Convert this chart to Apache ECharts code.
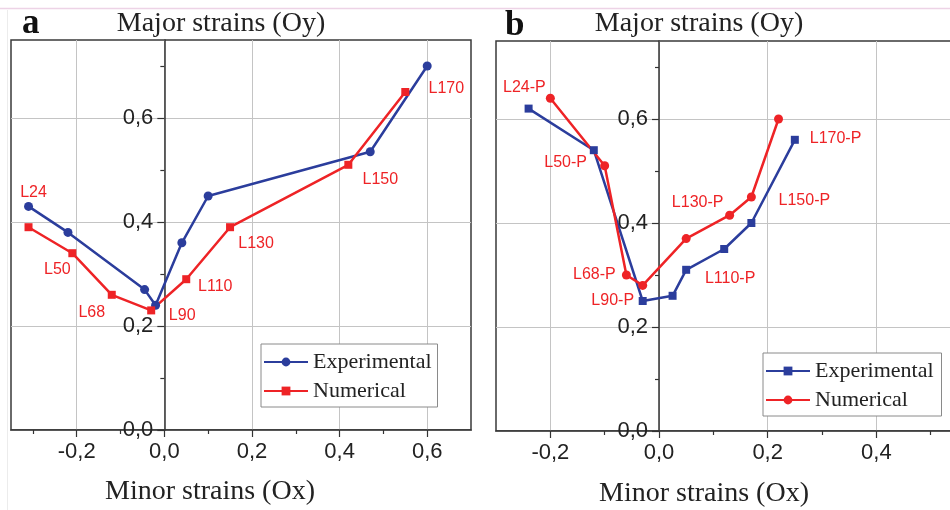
<!DOCTYPE html>
<html>
<head>
<meta charset="utf-8">
<title>Major vs minor strains</title>
<script src="https://cdn.jsdelivr.net/npm/echarts@6/dist/echarts.min.js"></script>
<style>
  html, body { margin: 0; padding: 0; background: #ffffff; }
  #chart { width: 950px; height: 510px; }
</style>
</head>
<body>
<div id="chart"></div>
<script>
// ---- Panel a: forming limit points (minor strain x, major strain y) ----
const aExpX = [-0.31, -0.22, -0.045, -0.02, 0.04, 0.10, 0.47, 0.60];
const aExpY = [0.43, 0.38, 0.27, 0.24, 0.36, 0.45, 0.535, 0.70];
const aNumX = [-0.31, -0.21, -0.12, -0.03, 0.05, 0.15, 0.42, 0.55];
const aNumY = [0.39, 0.34, 0.26, 0.23, 0.29, 0.39, 0.51, 0.65];
const aLabels = ['L24', 'L50', 'L68', 'L90', 'L110', 'L130', 'L150', 'L170'];

// ---- Panel b: pre-strained specimens ----
const bExpX = [-0.24, -0.12, -0.03, 0.025, 0.05, 0.12, 0.17, 0.25];
const bExpY = [0.62, 0.54, 0.25, 0.26, 0.31, 0.35, 0.40, 0.56];
const bNumX = [-0.20, -0.10, -0.06, -0.03, 0.05, 0.13, 0.17, 0.22];
const bNumY = [0.64, 0.51, 0.30, 0.28, 0.37, 0.415, 0.45, 0.60];
const bLabels = ['L24-P', 'L50-P', 'L68-P', 'L90-P', 'L110-P', 'L130-P', 'L150-P', 'L170-P'];

// ---- Axis ticks ----
const aMajorX = [-0.2, 0.0, 0.2, 0.4, 0.6];
const aMinorX = [-0.3, -0.1, 0.1, 0.3, 0.5];
const bMajorX = [-0.2, 0.0, 0.2, 0.4, 0.6];
const bMinorX = [-0.1, 0.1, 0.3, 0.5];
const majorY = [0.0, 0.2, 0.4, 0.6];
const minorY = [0.1, 0.3, 0.5, 0.7];

// label offsets (px) from each numerical point to its tag text
const aLabelOffsets = [[5, -35], [-15, 16], [-20, 18], [31, 5], [29, 7], [26, 16], [32, 15], [41, -3]];
const bLabelOffsets = [[-26, -11], [-39, -3], [-32, 0], [-30, 15], [44, 40], [-32, -13], [53, 4], [57, 20]];

const BLUE = '#2b3d9c';
const RED = '#ee2326';
const SANS = '"Liberation Sans", Arial, sans-serif';
const SERIF = '"Liberation Serif", "Times New Roman", serif';

const W = 950;
const gridA = { left: 11, top: 40, right: 479, bottom: 80 };
const gridB = { left: 496, top: 41, right: -35, bottom: 79 };

const comma = v => v.toFixed(1).replace('.', ',');
const zip = (xs, ys) => xs.map((x, i) => [x, ys[i]]);

function tagged(xs, ys, names, offsets) {
  return xs.map((x, i) => ({
    value: [x, ys[i]],
    label: {
      show: true,
      formatter: names[i],
      position: 'inside',
      offset: offsets[i],
      color: RED,
      fontFamily: SANS,
      fontSize: 16
    }
  }));
}

// the vertical axis crosses the horizontal one at x = 0
function zeroShift(grid, xMin, xMax) {
  const width = W - grid.left - grid.right;
  return -width * (0 - xMin) / (xMax - xMin);
}

function axesFor(gridIndex, grid, xMin, xMax, majorX, minorX) {
  const shift = zeroShift(grid, xMin, xMax);
  const xs = [
    {
      type: 'value', gridIndex, min: xMin, max: xMax, position: 'bottom',
      axisLine: { onZero: false, lineStyle: { color: '#333', width: 1.5 } },
      axisTick: { show: true, inside: false, length: 7, customValues: majorX, lineStyle: { color: '#333', width: 1.2 } },
      axisLabel: { customValues: majorX, formatter: comma, margin: 11, color: '#222', fontFamily: SANS, fontSize: 22 },
      splitLine: { show: true, lineStyle: { color: '#c4c4c4', width: 1 } }
    },
    {
      type: 'value', gridIndex, min: xMin, max: xMax, position: 'bottom',
      axisLine: { show: false, onZero: false },
      axisTick: { show: true, inside: false, length: 4, customValues: minorX, lineStyle: { color: '#333', width: 1.2 } },
      axisLabel: { show: false },
      splitLine: { show: false }
    }
  ];
  const ys = [
    {
      type: 'value', gridIndex, min: 0, max: 0.75, position: 'left', offset: shift,
      axisLine: { show: true, onZero: false, lineStyle: { color: '#333', width: 1.5 } },
      axisTick: { show: true, inside: false, length: 7, customValues: majorY, lineStyle: { color: '#333', width: 1.2 } },
      axisLabel: { customValues: majorY, formatter: comma, margin: 11, color: '#222', fontFamily: SANS, fontSize: 22 },
      splitLine: { show: true, lineStyle: { color: '#c4c4c4', width: 1 } }
    },
    {
      type: 'value', gridIndex, min: 0, max: 0.75, position: 'left', offset: shift,
      axisLine: { show: false, onZero: false },
      axisTick: { show: true, inside: false, length: 4, customValues: minorY, lineStyle: { color: '#333', width: 1.2 } },
      axisLabel: { show: false },
      splitLine: { show: false }
    }
  ];
  return { xs, ys };
}

const axA = axesFor(0, gridA, -0.35, 0.70, aMajorX, aMinorX);
const axB = axesFor(1, gridB, -0.30, 0.60, bMajorX, bMinorX);

function lineSeries(name, xAxisIndex, yAxisIndex, data, color, symbol, size) {
  return {
    name, type: 'line', xAxisIndex, yAxisIndex, data,
    symbol, symbolSize: size, showSymbol: true,
    lineStyle: { color, width: 2.5 },
    itemStyle: { color },
    emphasis: { disabled: true },
    animation: false
  };
}

const legendName = n => n.slice(2);
const gridStyle = { show: true, borderColor: '#3a3a3a', borderWidth: 1.5, backgroundColor: 'transparent', containLabel: false, outerBoundsMode: 'none' };

const option = {
  backgroundColor: '#ffffff',
  animation: false,
  grid: [
    Object.assign({}, gridA, gridStyle),
    Object.assign({}, gridB, gridStyle)
  ],
  xAxis: [...axA.xs, ...axB.xs],
  yAxis: [...axA.ys, ...axB.ys],
  legend: [
    {
      orient: 'vertical', left: 261, top: 344,
      data: ['a-Experimental', 'a-Numerical'],
      formatter: legendName,
      itemWidth: 44, itemHeight: 11, itemGap: 7,
      padding: [7, 6, 5, 2],
      borderColor: '#8a8a8a', borderWidth: 1, backgroundColor: '#ffffff',
      textStyle: { fontFamily: SERIF, fontSize: 22, color: '#222' },
      selectedMode: false
    },
    {
      orient: 'vertical', left: 763, top: 353,
      data: ['b-Experimental', 'b-Numerical'],
      formatter: legendName,
      itemWidth: 44, itemHeight: 11, itemGap: 7,
      padding: [7, 8, 5, 2],
      borderColor: '#8a8a8a', borderWidth: 1, backgroundColor: '#ffffff',
      textStyle: { fontFamily: SERIF, fontSize: 22, color: '#222' },
      selectedMode: false
    }
  ],
  series: [
    lineSeries('a-Experimental', 0, 0, zip(aExpX, aExpY), BLUE, 'circle', 9),
    lineSeries('a-Numerical', 0, 0, tagged(aNumX, aNumY, aLabels, aLabelOffsets), RED, 'rect', 8),
    lineSeries('b-Experimental', 2, 2, zip(bExpX, bExpY), BLUE, 'rect', 8),
    lineSeries('b-Numerical', 2, 2, tagged(bNumX, bNumY, bLabels, bLabelOffsets), RED, 'circle', 9)
  ],
  graphic: [
    { type: 'line', shape: { x1: 0, y1: 8.5, x2: 950, y2: 8.5 }, style: { stroke: '#edd3e6', lineWidth: 1.5 }, silent: true },
    { type: 'line', shape: { x1: 7.5, y1: 10, x2: 7.5, y2: 510 }, style: { stroke: '#ececec', lineWidth: 1 }, silent: true },
    { type: 'text', x: 22, y: 24, style: { text: 'a', font: 'bold 35px ' + SERIF, fill: '#111', align: 'left', verticalAlign: 'middle' }, silent: true },
    { type: 'text', x: 221, y: 24, style: { text: 'Major strains (Oy)', font: '28px ' + SERIF, fill: '#222', align: 'center', verticalAlign: 'middle' }, silent: true },
    { type: 'text', x: 210, y: 492, style: { text: 'Minor strains (Ox)', font: '28px ' + SERIF, fill: '#222', align: 'center', verticalAlign: 'middle' }, silent: true },
    { type: 'text', x: 505, y: 26, style: { text: 'b', font: 'bold 35px ' + SERIF, fill: '#111', align: 'left', verticalAlign: 'middle' }, silent: true },
    { type: 'text', x: 699, y: 24, style: { text: 'Major strains (Oy)', font: '28px ' + SERIF, fill: '#222', align: 'center', verticalAlign: 'middle' }, silent: true },
    { type: 'text', x: 704, y: 494, style: { text: 'Minor strains (Ox)', font: '28px ' + SERIF, fill: '#222', align: 'center', verticalAlign: 'middle' }, silent: true }
  ]
};

const chart = echarts.init(document.getElementById('chart'), null, { renderer: 'canvas' });
chart.setOption(option);
</script>
</body>
</html>
